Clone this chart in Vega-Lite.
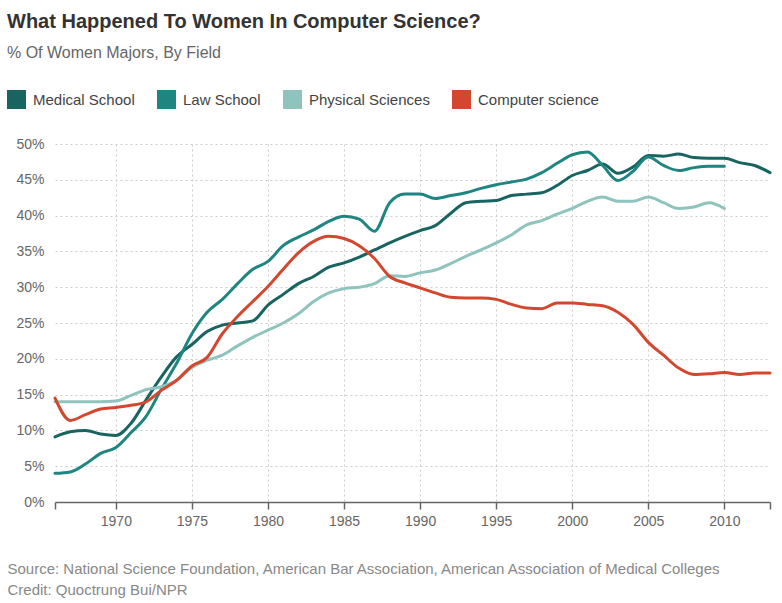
{
  "$schema": "https://vega.github.io/schema/vega-lite/v6.json",
  "width": 715,
  "height": 358,
  "autosize": {"type": "none"},
  "padding": {"left": 55, "top": 144, "right": 12, "bottom": 101},
  "config": {
    "font": "Liberation Sans",
    "view": {"stroke": null}
  },
  "title": {
    "text": "What Happened To Women In Computer Science?",
    "subtitle": "% Of Women Majors, By Field",
    "anchor": "start",
    "frame": "group",
    "dx": -48,
    "fontSize": 20,
    "fontWeight": "bold",
    "color": "#333333",
    "subtitleFontSize": 16,
    "subtitleColor": "#666666",
    "subtitlePadding": 13,
    "offset": 29
  },
  "data": {
    "values": [
      {"year": 1966, "field": "Medical School", "pct": 9.1},
      {"year": 1967, "field": "Medical School", "pct": 9.8},
      {"year": 1968, "field": "Medical School", "pct": 10.0},
      {"year": 1969, "field": "Medical School", "pct": 9.5},
      {"year": 1970, "field": "Medical School", "pct": 9.3},
      {"year": 1971, "field": "Medical School", "pct": 11.0},
      {"year": 1972, "field": "Medical School", "pct": 14.3},
      {"year": 1973, "field": "Medical School", "pct": 17.5},
      {"year": 1974, "field": "Medical School", "pct": 20.3},
      {"year": 1975, "field": "Medical School", "pct": 22.0},
      {"year": 1976, "field": "Medical School", "pct": 23.8},
      {"year": 1977, "field": "Medical School", "pct": 24.7},
      {"year": 1978, "field": "Medical School", "pct": 25.0},
      {"year": 1979, "field": "Medical School", "pct": 25.3},
      {"year": 1980, "field": "Medical School", "pct": 27.5},
      {"year": 1981, "field": "Medical School", "pct": 29.0},
      {"year": 1982, "field": "Medical School", "pct": 30.5},
      {"year": 1983, "field": "Medical School", "pct": 31.5},
      {"year": 1984, "field": "Medical School", "pct": 32.8},
      {"year": 1985, "field": "Medical School", "pct": 33.4},
      {"year": 1986, "field": "Medical School", "pct": 34.2},
      {"year": 1987, "field": "Medical School", "pct": 35.2},
      {"year": 1988, "field": "Medical School", "pct": 36.2},
      {"year": 1989, "field": "Medical School", "pct": 37.1},
      {"year": 1990, "field": "Medical School", "pct": 37.9},
      {"year": 1991, "field": "Medical School", "pct": 38.6},
      {"year": 1992, "field": "Medical School", "pct": 40.3},
      {"year": 1993, "field": "Medical School", "pct": 41.8},
      {"year": 1994, "field": "Medical School", "pct": 42.0},
      {"year": 1995, "field": "Medical School", "pct": 42.1},
      {"year": 1996, "field": "Medical School", "pct": 42.8},
      {"year": 1997, "field": "Medical School", "pct": 43.0},
      {"year": 1998, "field": "Medical School", "pct": 43.2},
      {"year": 1999, "field": "Medical School", "pct": 44.2},
      {"year": 2000, "field": "Medical School", "pct": 45.6},
      {"year": 2001, "field": "Medical School", "pct": 46.3},
      {"year": 2002, "field": "Medical School", "pct": 47.2},
      {"year": 2003, "field": "Medical School", "pct": 45.9},
      {"year": 2004, "field": "Medical School", "pct": 46.8},
      {"year": 2005, "field": "Medical School", "pct": 48.4},
      {"year": 2006, "field": "Medical School", "pct": 48.3},
      {"year": 2007, "field": "Medical School", "pct": 48.6},
      {"year": 2008, "field": "Medical School", "pct": 48.1},
      {"year": 2009, "field": "Medical School", "pct": 48.0},
      {"year": 2010, "field": "Medical School", "pct": 48.0},
      {"year": 2011, "field": "Medical School", "pct": 47.4},
      {"year": 2012, "field": "Medical School", "pct": 47.0},
      {"year": 2013, "field": "Medical School", "pct": 46.0},

      {"year": 1966, "field": "Law School", "pct": 4.0},
      {"year": 1967, "field": "Law School", "pct": 4.2},
      {"year": 1968, "field": "Law School", "pct": 5.3},
      {"year": 1969, "field": "Law School", "pct": 6.8},
      {"year": 1970, "field": "Law School", "pct": 7.6},
      {"year": 1971, "field": "Law School", "pct": 9.7},
      {"year": 1972, "field": "Law School", "pct": 12.0},
      {"year": 1973, "field": "Law School", "pct": 15.8},
      {"year": 1974, "field": "Law School", "pct": 19.4},
      {"year": 1975, "field": "Law School", "pct": 23.5},
      {"year": 1976, "field": "Law School", "pct": 26.5},
      {"year": 1977, "field": "Law School", "pct": 28.3},
      {"year": 1978, "field": "Law School", "pct": 30.5},
      {"year": 1979, "field": "Law School", "pct": 32.5},
      {"year": 1980, "field": "Law School", "pct": 33.6},
      {"year": 1981, "field": "Law School", "pct": 35.8},
      {"year": 1982, "field": "Law School", "pct": 37.0},
      {"year": 1983, "field": "Law School", "pct": 38.0},
      {"year": 1984, "field": "Law School", "pct": 39.2},
      {"year": 1985, "field": "Law School", "pct": 39.9},
      {"year": 1986, "field": "Law School", "pct": 39.5},
      {"year": 1987, "field": "Law School", "pct": 37.8},
      {"year": 1988, "field": "Law School", "pct": 41.8},
      {"year": 1989, "field": "Law School", "pct": 43.0},
      {"year": 1990, "field": "Law School", "pct": 43.0},
      {"year": 1991, "field": "Law School", "pct": 42.4},
      {"year": 1992, "field": "Law School", "pct": 42.8},
      {"year": 1993, "field": "Law School", "pct": 43.2},
      {"year": 1994, "field": "Law School", "pct": 43.8},
      {"year": 1995, "field": "Law School", "pct": 44.3},
      {"year": 1996, "field": "Law School", "pct": 44.7},
      {"year": 1997, "field": "Law School", "pct": 45.1},
      {"year": 1998, "field": "Law School", "pct": 46.0},
      {"year": 1999, "field": "Law School", "pct": 47.3},
      {"year": 2000, "field": "Law School", "pct": 48.5},
      {"year": 2001, "field": "Law School", "pct": 48.9},
      {"year": 2002, "field": "Law School", "pct": 47.0},
      {"year": 2003, "field": "Law School", "pct": 44.9},
      {"year": 2004, "field": "Law School", "pct": 46.2},
      {"year": 2005, "field": "Law School", "pct": 48.2},
      {"year": 2006, "field": "Law School", "pct": 47.0},
      {"year": 2007, "field": "Law School", "pct": 46.3},
      {"year": 2008, "field": "Law School", "pct": 46.7},
      {"year": 2009, "field": "Law School", "pct": 46.9},
      {"year": 2010, "field": "Law School", "pct": 46.9},

      {"year": 1966, "field": "Physical Sciences", "pct": 14.0},
      {"year": 1967, "field": "Physical Sciences", "pct": 14.0},
      {"year": 1968, "field": "Physical Sciences", "pct": 14.0},
      {"year": 1969, "field": "Physical Sciences", "pct": 14.0},
      {"year": 1970, "field": "Physical Sciences", "pct": 14.1},
      {"year": 1971, "field": "Physical Sciences", "pct": 14.9},
      {"year": 1972, "field": "Physical Sciences", "pct": 15.7},
      {"year": 1973, "field": "Physical Sciences", "pct": 16.1},
      {"year": 1974, "field": "Physical Sciences", "pct": 17.0},
      {"year": 1975, "field": "Physical Sciences", "pct": 18.8},
      {"year": 1976, "field": "Physical Sciences", "pct": 19.8},
      {"year": 1977, "field": "Physical Sciences", "pct": 20.5},
      {"year": 1978, "field": "Physical Sciences", "pct": 21.8},
      {"year": 1979, "field": "Physical Sciences", "pct": 23.0},
      {"year": 1980, "field": "Physical Sciences", "pct": 24.0},
      {"year": 1981, "field": "Physical Sciences", "pct": 25.0},
      {"year": 1982, "field": "Physical Sciences", "pct": 26.3},
      {"year": 1983, "field": "Physical Sciences", "pct": 28.0},
      {"year": 1984, "field": "Physical Sciences", "pct": 29.2},
      {"year": 1985, "field": "Physical Sciences", "pct": 29.8},
      {"year": 1986, "field": "Physical Sciences", "pct": 30.0},
      {"year": 1987, "field": "Physical Sciences", "pct": 30.5},
      {"year": 1988, "field": "Physical Sciences", "pct": 31.6},
      {"year": 1989, "field": "Physical Sciences", "pct": 31.5},
      {"year": 1990, "field": "Physical Sciences", "pct": 32.0},
      {"year": 1991, "field": "Physical Sciences", "pct": 32.4},
      {"year": 1992, "field": "Physical Sciences", "pct": 33.3},
      {"year": 1993, "field": "Physical Sciences", "pct": 34.3},
      {"year": 1994, "field": "Physical Sciences", "pct": 35.2},
      {"year": 1995, "field": "Physical Sciences", "pct": 36.2},
      {"year": 1996, "field": "Physical Sciences", "pct": 37.3},
      {"year": 1997, "field": "Physical Sciences", "pct": 38.7},
      {"year": 1998, "field": "Physical Sciences", "pct": 39.3},
      {"year": 1999, "field": "Physical Sciences", "pct": 40.2},
      {"year": 2000, "field": "Physical Sciences", "pct": 41.0},
      {"year": 2001, "field": "Physical Sciences", "pct": 42.0},
      {"year": 2002, "field": "Physical Sciences", "pct": 42.6},
      {"year": 2003, "field": "Physical Sciences", "pct": 42.0},
      {"year": 2004, "field": "Physical Sciences", "pct": 42.0},
      {"year": 2005, "field": "Physical Sciences", "pct": 42.6},
      {"year": 2006, "field": "Physical Sciences", "pct": 41.8},
      {"year": 2007, "field": "Physical Sciences", "pct": 41.0},
      {"year": 2008, "field": "Physical Sciences", "pct": 41.2},
      {"year": 2009, "field": "Physical Sciences", "pct": 41.8},
      {"year": 2010, "field": "Physical Sciences", "pct": 41.0},

      {"year": 1966, "field": "Computer science", "pct": 14.5},
      {"year": 1967, "field": "Computer science", "pct": 11.4},
      {"year": 1968, "field": "Computer science", "pct": 12.2},
      {"year": 1969, "field": "Computer science", "pct": 13.0},
      {"year": 1970, "field": "Computer science", "pct": 13.2},
      {"year": 1971, "field": "Computer science", "pct": 13.5},
      {"year": 1972, "field": "Computer science", "pct": 14.0},
      {"year": 1973, "field": "Computer science", "pct": 15.6},
      {"year": 1974, "field": "Computer science", "pct": 17.0},
      {"year": 1975, "field": "Computer science", "pct": 19.0},
      {"year": 1976, "field": "Computer science", "pct": 20.2},
      {"year": 1977, "field": "Computer science", "pct": 23.5},
      {"year": 1978, "field": "Computer science", "pct": 25.9},
      {"year": 1979, "field": "Computer science", "pct": 28.0},
      {"year": 1980, "field": "Computer science", "pct": 30.1},
      {"year": 1981, "field": "Computer science", "pct": 32.5},
      {"year": 1982, "field": "Computer science", "pct": 34.8},
      {"year": 1983, "field": "Computer science", "pct": 36.4},
      {"year": 1984, "field": "Computer science", "pct": 37.1},
      {"year": 1985, "field": "Computer science", "pct": 36.8},
      {"year": 1986, "field": "Computer science", "pct": 35.8},
      {"year": 1987, "field": "Computer science", "pct": 34.0},
      {"year": 1988, "field": "Computer science", "pct": 31.5},
      {"year": 1989, "field": "Computer science", "pct": 30.6},
      {"year": 1990, "field": "Computer science", "pct": 29.9},
      {"year": 1991, "field": "Computer science", "pct": 29.2},
      {"year": 1992, "field": "Computer science", "pct": 28.6},
      {"year": 1993, "field": "Computer science", "pct": 28.5},
      {"year": 1994, "field": "Computer science", "pct": 28.5},
      {"year": 1995, "field": "Computer science", "pct": 28.3},
      {"year": 1996, "field": "Computer science", "pct": 27.6},
      {"year": 1997, "field": "Computer science", "pct": 27.1},
      {"year": 1998, "field": "Computer science", "pct": 27.0},
      {"year": 1999, "field": "Computer science", "pct": 27.8},
      {"year": 2000, "field": "Computer science", "pct": 27.8},
      {"year": 2001, "field": "Computer science", "pct": 27.6},
      {"year": 2002, "field": "Computer science", "pct": 27.4},
      {"year": 2003, "field": "Computer science", "pct": 26.5},
      {"year": 2004, "field": "Computer science", "pct": 24.8},
      {"year": 2005, "field": "Computer science", "pct": 22.3},
      {"year": 2006, "field": "Computer science", "pct": 20.5},
      {"year": 2007, "field": "Computer science", "pct": 18.7},
      {"year": 2008, "field": "Computer science", "pct": 17.8},
      {"year": 2009, "field": "Computer science", "pct": 17.9},
      {"year": 2010, "field": "Computer science", "pct": 18.1},
      {"year": 2011, "field": "Computer science", "pct": 17.8},
      {"year": 2012, "field": "Computer science", "pct": 18.0},
      {"year": 2013, "field": "Computer science", "pct": 18.0}
    ]
  },
  "mark": {"type": "line", "interpolate": "monotone", "strokeWidth": 3, "strokeCap": "round"},
  "encoding": {
    "x": {
      "field": "year",
      "type": "quantitative",
      "scale": {"domain": [1966, 2013], "nice": false, "zero": false},
      "axis": {
        "values": [1966, 1970, 1975, 1980, 1985, 1990, 1995, 2000, 2005, 2010, 2013],
        "format": "d",
        "labelExpr": "datum.value == 1966 || datum.value == 2013 ? '' : datum.label",
        "labelFontSize": 14,
        "labelColor": "#666666",
        "labelPadding": 5,
        "labelFlush": false,
        "tickSize": 7,
        "tickColor": "#666666",
        "tickWidth": 1.5,
        "domainColor": "#666666",
        "domainWidth": 1.5,
        "grid": true,
        "gridColor": "#cccccc",
        "gridDash": [2, 3],
        "gridWidth": 1,
        "gridOpacity": {"condition": {"test": "datum.value == 1966 || datum.value == 2013", "value": 0}, "value": 1},
        "title": ["Source: National Science Foundation, American Bar Association, American Association of Medical Colleges", "Credit: Quoctrung Bui/NPR"],
        "titleFontSize": 15,
        "titleFontWeight": "normal",
        "titleColor": "#888888",
        "titleAlign": "left",
        "titleAnchor": "start",
        "titleBaseline": "top",
        "titleX": -48,
        "titleY": 59,
        "titleLineHeight": 21
      }
    },
    "y": {
      "field": "pct",
      "type": "quantitative",
      "scale": {"domain": [0, 50], "nice": false},
      "axis": {
        "values": [0, 5, 10, 15, 20, 25, 30, 35, 40, 45, 50],
        "labelExpr": "datum.value + '%'",
        "labelFontSize": 14,
        "labelColor": "#666666",
        "labelPadding": 11,
        "ticks": false,
        "domain": false,
        "grid": true,
        "gridColor": "#cccccc",
        "gridDash": [2, 3],
        "gridWidth": 1,
        "title": null
      }
    },
    "color": {
      "field": "field",
      "type": "nominal",
      "sort": ["Medical School", "Law School", "Physical Sciences", "Computer science"],
      "scale": {
        "domain": ["Medical School", "Law School", "Physical Sciences", "Computer science"],
        "range": ["#176460", "#1e8580", "#8ec3be", "#d3472f"]
      },
      "legend": {
        "orient": "none",
        "legendX": -48,
        "legendY": -54,
        "direction": "horizontal",
        "title": null,
        "symbolType": "square",
        "symbolSize": 361,
        "symbolStrokeWidth": 0,
        "labelFontSize": 15,
        "labelColor": "#444444",
        "labelOffset": 7,
        "columnPadding": 22,
        "encode": {
          "symbols": {"update": {"fill": {"scale": "color", "field": "value"}, "strokeWidth": {"value": 0}}}
        }
      }
    },
    "order": {"field": "field"}
  }
}
